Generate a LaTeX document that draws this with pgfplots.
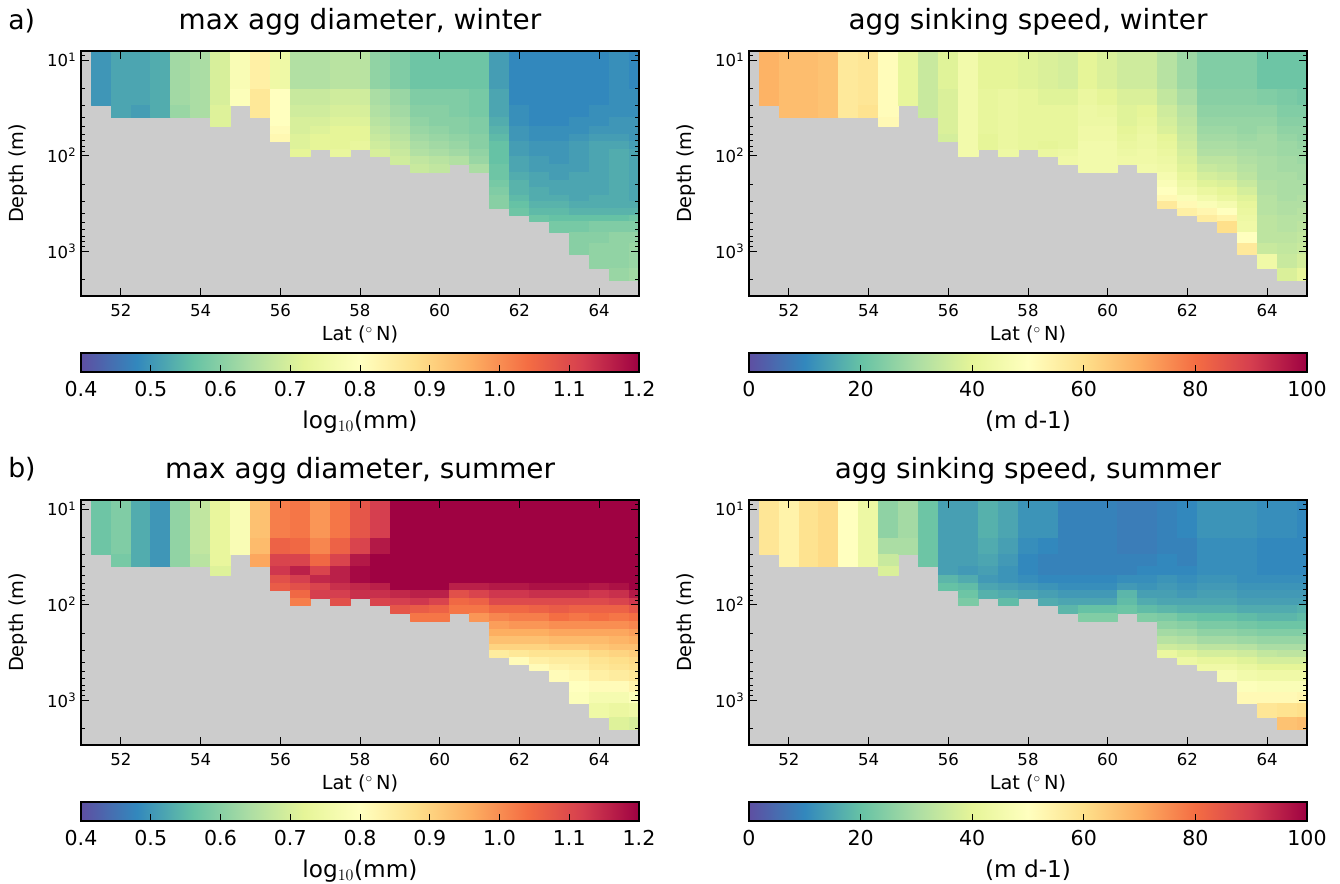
\documentclass[border=0pt]{standalone}
\usepackage{fontspec}
\setmainfont{DejaVu Sans}
\usepackage{pgfplots}
\pgfplotsset{compat=1.18}
\definecolor{land}{HTML}{CCCCCC}

% lower edge of each depth band (m), first entry is the top of the axis
\def\depthedges{{8,20.3,29.6,40.2,49.1,59.6,71.6,85.5,103,124,150,181,217,259,304,357,420,485,638,838,1073,1507,2046}}

% one brace group per latitude column (51.25, 51.75, ... 64.75), values top to bottom
\def\dataA{{50,50},{52,52,52},{52,52,51},{53,53,53},{63,63,62},{64,64,64},{70,70,71,71},{78,79},{84,86,86},
{75,80,80,80,81,82},{65,68,69,70,70,71,71,72},{65,68,69,70,71,72,72},{66,69,70,71,72,72,72,73},{66,69,70,71,72,72,73},
{61,64,65,66,67,68,69,70},{59,62,63,64,65,66,67,68,69},{57,59,60,61,62,63,64,65,67,68},{57,59,60,60,61,62,63,64,66,67},
{57,59,59,60,60,61,62,63,65},{57,58,58,59,59,60,60,61,62,64},
{51,52,52,53,54,55,56,56,56,57,57,58,59,60,60},
{48,48,49,49,50,50,51,51,52,52,53,54,54,55,56,57},
{48,48,48,48,49,49,50,50,51,51,52,52,53,53,54,55,57},
{48,48,48,48,49,49,50,50,50,51,51,52,52,53,54,55,56,58},
{48,48,48,49,49,50,51,51,51,51,52,52,52,52,53,54,56,58,60,60},
{48,48,49,49,50,51,52,52,52,52,52,52,52,53,53,54,56,59,60,61,61},
{49,49,49,50,50,51,52,53,53,53,53,53,53,53,53,54,56,59,61,61,61,62},
{48,49,49,50,50,50,51,52,52,52,52,52,52,52,53,54,57,59,61,62,62,63}}

\def\dataB{{69,69},{67,67,67},{67,67,67},{66,66,66},{57,57,57},{58,58,59},{51,51,51,52},{41,41},{35,35,35},
{39,38,38,38,38,37},{45,45,45,45,45,45,45,45},{40,41,41,41,41,40,40},{40,42,42,42,42,42,42,43},{39,41,41,41,41,41,41},
{38,39,41,41,41,41,40,42},{37,39,41,41,41,41,41,43,44},{40,42,43,43,44,44,45,45,45,45},{38,40,42,43,44,44,45,45,45,45},
{36,38,39,39,40,41,42,43,44},{36,38,40,41,42,43,43,44,44,45},
{32,34,36,37,38,40,41,42,43,44,46,48,50,52,57},
{28,30,32,33,34,35,36,37,38,39,41,43,45,48,52,55},
{24,25,26,27,28,29,30,31,33,35,37,39,42,45,48,53,56},
{24,25,26,27,28,29,30,31,33,34,36,38,40,42,46,50,54,60},
{24,25,26,27,27,28,29,30,31,32,33,35,37,39,41,42,43,44,50,57},
{21,24,26,27,28,29,29,29,30,30,30,31,31,32,32,32,33,33,33,35,44},
{21,23,24,25,26,27,28,28,29,29,30,30,30,30,31,31,32,32,33,34,35,38},
{21,22,24,25,26,26,27,28,28,29,29,30,30,31,31,32,32,33,34,35,37,41}}

\def\dataC{{57,57},{59,59,58},{53,53,53},{50,50,50},{61,61,61},{67,67,66},{73,73,73,71},{78,78},{93,94,97},
{102,106,111,113,109,107},{103,105,111,116,112,109,105,102},{99,101,105,111,115,111,112},{103,106,111,116,116,114,112,109},{108,111,117,119,119,115,114},
{112,117,120,120,120,116,114,111},{120,120,120,120,120,120,115,112,108},{120,120,120,120,120,120,116,113,107,103},{120,120,120,120,120,120,116,111,106,103},
{120,120,120,120,120,116,109,105,103},{120,120,120,120,120,116,111,106,103,99},
{120,120,120,120,120,117,113,110,105,101,98,96,93,90,85},
{120,120,120,120,120,117,113,110,105,102,99,96,93,90,86,81},
{120,120,120,120,120,118,114,110,106,102,99,96,93,90,87,84,81},
{120,120,120,120,120,118,114,110,107,104,100,97,94,91,87,85,83,81},
{120,120,120,120,120,118,114,110,106,103,100,97,94,91,87,85,84,82,80,79},
{120,120,120,120,120,117,113,110,106,104,100,97,94,92,89,87,86,84,81,77,75},
{120,120,120,120,120,118,114,111,106,103,100,97,95,93,90,88,87,85,81,77,74,71},
{120,120,120,120,120,120,117,113,108,104,101,98,96,93,91,89,88,86,83,79,75,70}}

\def\dataD{{58,58},{54,54,54},{59,59,59},{61,61,61},{50,50,50},{43,43,43},{26,30,35,38},{29,30},{21,21,21},
{14,14,14,14,18,20},{14,14,14,13,16,19,21,23},{17,16,15,14,13,15,17},{15,14,13,12,12,14,16,19},{12,11,10,10,11,13,15},
{12,10,9,9,10,12,14,16},{9,9,9,9,10,11,13,15,18},{9,9,9,9,10,11,13,15,20,24},{9,9,9,9,10,11,13,15,20,24},
{8,8,9,9,11,13,18,19,21},{8,8,9,10,11,12,14,16,19,24},
{9,9,10,10,12,13,14,15,18,23,26,29,32,36,42},
{10,9,9,10,11,12,13,15,17,21,25,28,31,35,39,43},
{12,11,11,11,12,13,14,15,17,20,23,26,29,33,37,41,44},
{12,11,11,11,12,13,14,15,17,20,23,26,29,33,37,41,44,47},
{12,11,11,11,11,12,13,14,16,19,22,25,28,32,36,39,42,45,49,52},
{11,10,10,10,11,12,13,14,16,18,21,24,27,30,34,37,40,44,48,52,58},
{11,10,10,10,11,12,13,14,16,18,21,24,27,30,33,37,40,44,48,52,59,66},
{10,10,10,10,11,12,13,14,17,19,21,24,27,30,33,37,40,44,48,53,60,67}}

% turn the column lists into rectangle patches: (x,depth) [meta]
\newcommand\buildcells[2]{%
  \gdef\cells{}%
  \foreach \col [count=\i from 0] in #1 {%
    \pgfmathsetmacro\xl{51.25+0.5*\i}%
    \pgfmathsetmacro\xr{min(65,\xl+0.5)}%
    \foreach \v [count=\j from 0] in \col {%
      \pgfmathsetmacro\yt{\depthedges[\j]}%
      \pgfmathsetmacro\yb{\depthedges[\j+1]}%
      \pgfmathsetmacro\m{\v*#2}%
      \xdef\cells{\cells (\xl,\yt) [\m] (\xr,\yt) [\m] (\xr,\yb) [\m] (\xl,\yb) [\m] }%
    }%
  }%
}
\newcommand\plotcellsi[1]{\addplot[patch, patch type=rectangle, shader=flat, point meta=explicit] coordinates {#1};}
\newcommand\plotcells[2]{\buildcells{#1}{#2}\expandafter\plotcellsi\expandafter{\cells}}

\pgfkeys{/pgf/number format/assume math mode=true}
\pgfplotsset{
  spectralmap/.style={
    colormap={spectralr}{rgb255=(94,79,162) rgb255=(50,136,189) rgb255=(102,194,165) rgb255=(171,221,164)
      rgb255=(230,245,152) rgb255=(255,255,191) rgb255=(254,224,139) rgb255=(253,174,97)
      rgb255=(244,109,67) rgb255=(213,62,79) rgb255=(158,1,66)},
  },
  mappanel/.style={
    spectralmap,
    scale only axis, width=418.5pt, height=183.75pt,
    xmin=51, xmax=65, ymin=8.05, ymax=2960,
    y dir=reverse,
    xtick={52,54,...,64}, ytick={10,100,1000},
    yticklabels={10\textsuperscript{1},10\textsuperscript{2},10\textsuperscript{3}},
    minor ytick={9,20,30,40,50,60,70,80,90,200,300,400,500,600,700,800,900,2000},
    tick align=inside, xtick pos=both, ytick pos=both,
    major tick length=6pt, minor tick length=3pt,
    tick style={black, line width=0.6pt},
    axis line style={line width=1.5pt},
    axis on top,
    axis background/.style={fill=land},
    xlabel={Lat ($^\circ\,$N)}, ylabel={Depth (m)},
    label style={font=\fontsize{14.5}{15}\selectfont},
    tick label style={font=\fontsize{12.4}{13}\selectfont},
    xticklabel style={yshift=-3pt},
    xlabel style={at={(axis description cs:0.5,-0.18)}, anchor=base},
    ylabel style={at={(axis description cs:-0.113,0.5)}, anchor=center},
    title style={font=\fontsize{20.9}{23}\selectfont, yshift=2pt},
  },
  cbaraxis/.style={
    spectralmap,
    scale only axis, width=418.5pt, height=14.25pt,
    ymin=0, ymax=1, ytick=\empty,
    xtick pos=lower, tick align=inside,
    major tick length=5.5pt,
    tick style={black, line width=0.6pt},
    axis line style={line width=1.5pt},
    axis on top,
    tick label style={font=\fontsize{15.4}{16}\selectfont},
    label style={font=\fontsize{17.4}{18}\selectfont},
    scaled ticks=false,
    xticklabel style={yshift=-3.7pt},
    xlabel style={at={(axis description cs:0.5,-2.95)}, anchor=base},
  },
  diambar/.style={
    cbaraxis, xmin=0.4, xmax=1.2, xtick={0.4,0.5,0.6,0.7,0.8,0.9,1.0,1.1,1.2},
    xticklabel style={/pgf/number format/.cd, fixed, fixed zerofill, precision=1},
    xlabel={log$_{10}$(mm)},
  },
  speedbar/.style={
    cbaraxis, xmin=0, xmax=100, xtick={0,20,40,60,80,100}, xlabel={(m d-1)},
  },
}

\begin{document}
\begin{tikzpicture}
\useasboundingbox (0,0) rectangle (1005pt,663pt);
% maps
\begin{axis}[mappanel, ymode=log, point meta min=0.4, point meta max=1.2, at={(60.75pt,441pt)}, title={max agg diameter, winter}]
\plotcells{\dataA}{0.01}
\end{axis}
\begin{axis}[mappanel, ymode=log, point meta min=0, point meta max=100, at={(561.75pt,441pt)}, title={agg sinking speed, winter}]
\plotcells{\dataB}{1}
\end{axis}
\begin{axis}[mappanel, ymode=log, point meta min=0.4, point meta max=1.2, at={(60.75pt,104.25pt)}, title={max agg diameter, summer}]
\plotcells{\dataC}{0.01}
\end{axis}
\begin{axis}[mappanel, ymode=log, point meta min=0, point meta max=100, at={(561.75pt,104.25pt)}, title={agg sinking speed, summer}]
\plotcells{\dataD}{1}
\end{axis}
% colour bars
\begin{axis}[diambar, at={(60.75pt,384pt)}]
\addplot[surf, shader=interp, mesh/rows=2, point meta=x] coordinates {(0.4,0) (1.2,0) (0.4,1) (1.2,1)};
\end{axis}
\begin{axis}[speedbar, at={(561.75pt,384pt)}]
\addplot[surf, shader=interp, mesh/rows=2, point meta=x] coordinates {(0,0) (100,0) (0,1) (100,1)};
\end{axis}
\begin{axis}[diambar, at={(60.75pt,47.25pt)}]
\addplot[surf, shader=interp, mesh/rows=2, point meta=x] coordinates {(0.4,0) (1.2,0) (0.4,1) (1.2,1)};
\end{axis}
\begin{axis}[speedbar, at={(561.75pt,47.25pt)}]
\addplot[surf, shader=interp, mesh/rows=2, point meta=x] coordinates {(0,0) (100,0) (0,1) (100,1)};
\end{axis}
\node[anchor=base west, inner sep=0pt, font=\fontsize{20}{21}\selectfont] at (6pt,640.5pt) {a)};
\node[anchor=base west, inner sep=0pt, font=\fontsize{20}{21}\selectfont] at (6pt,304.5pt) {b)};
\end{tikzpicture}
\end{document}
